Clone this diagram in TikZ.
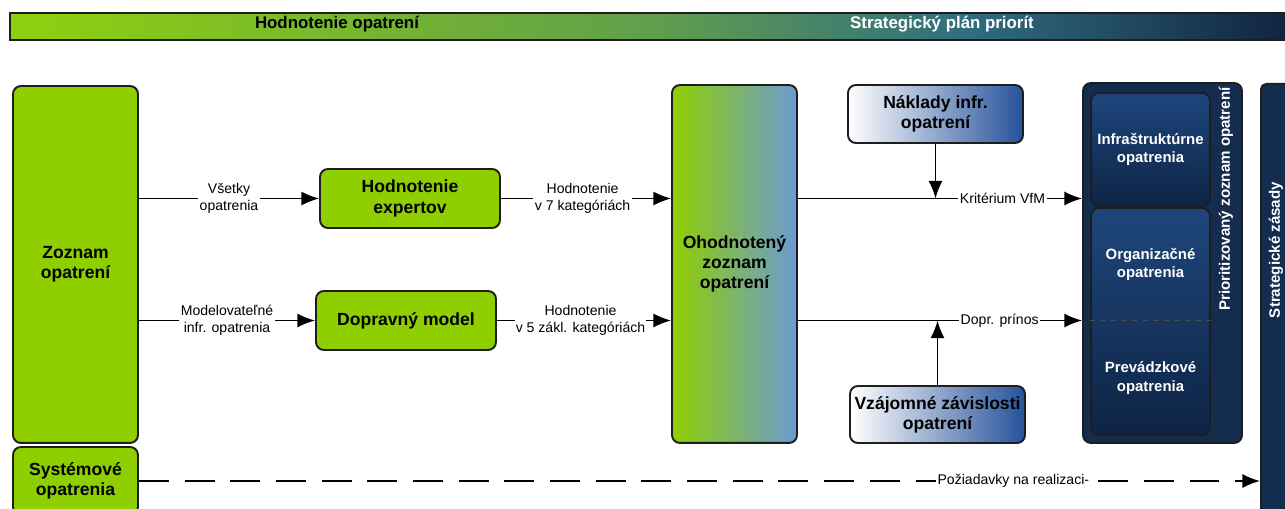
\documentclass[tikz,border=0pt]{standalone}
\usepackage{fontspec}
\setmainfont{Liberation Sans}
\usetikzlibrary{arrows.meta}
\definecolor{zelena}{RGB}{143,207,0}
\definecolor{modra}{RGB}{108,154,212}
\definecolor{tmava}{RGB}{38,82,155}
\definecolor{navy}{RGB}{20,44,78}
\definecolor{navyhore}{RGB}{30,70,124}
\definecolor{navydole}{RGB}{14,36,68}
\definecolor{okraj}{RGB}{30,30,30}
\pgfdeclarehorizontalshading{pasik}{100bp}{rgb(0bp)=(0.56,0.82,0.06); rgb(25bp)=(0.56,0.82,0.06); rgb(50bp)=(0.38,0.62,0.30); rgb(62bp)=(0.19,0.43,0.50); rgb(75bp)=(0.06,0.13,0.24); rgb(100bp)=(0.06,0.13,0.24)}

\begin{document}
\begin{tikzpicture}[x=0.02cm, y=-0.02cm,
	box/.style={draw=okraj, line width=1.1pt, rounded corners=4.5pt, align=center, inner sep=2pt, font=\bfseries\fontsize{10}{11.5}\selectfont},
	zbox/.style={box, fill=zelena},
	mbox/.style={box, left color=white, right color=tmava},
	nbox/.style={box, top color=navyhore, bottom color=navydole},
	ntext/.style={align=center, text=white, font=\bfseries\fontsize{8.5}{10.5}\selectfont},
	lbl/.style={fill=white, inner sep=1pt, align=center, font=\fontsize{8}{9.5}\selectfont},
	head/.style={font=\bfseries\fontsize{9.6}{11}\selectfont},
	tok/.style={line width=1pt, -{Latex[length=10pt, width=8pt]}}]
	\useasboundingbox (0,0) rectangle (1285,509);
	\clip (0,0) rectangle (1285,509);
	% horny pasik
	\shadedraw[shading=pasik, draw=okraj, line width=1pt] (10,13) rectangle (1300,40);
	\node[head] (hodn) at (337,24) {Hodnotenie opatrení};
	\node[head, text=white] (plan) at (942,24) {Strategický plán priorít};
	% lava cast
	\node[zbox, minimum width=2.5cm, minimum height=7.14cm] (zoznam) at (75.5,264.5) {Zoznam\\opatrení};
	\node[zbox, minimum width=2.5cm, minimum height=1.36cm] (system) at (75.5,481) {Systémové\\opatrenia};
	\node[zbox, minimum width=3.6cm, minimum height=1.18cm] (expert) at (410,198.5) {Hodnotenie\\expertov};
	\node[zbox, minimum width=3.6cm, minimum height=1.18cm] (doprava) at (406,320.5) {Dopravný model};
	\node[box, left color=zelena, right color=modra, minimum width=2.5cm, minimum height=7.16cm] (ohod) at (734.5,264) {Ohodnotený\\zoznam\\opatrení};
	\node[mbox, minimum width=3.5cm, minimum height=1.16cm] (naklady) at (935.5,114) {Náklady infr.\\opatrení};
	\node[mbox, minimum width=3.5cm, minimum height=1.14cm] (vzajom) at (937.5,414.5) {Vzájomné závislosti\\opatrení};
	% prava cast
	\node[box, fill=navy, minimum width=3.18cm, minimum height=7.2cm] (prior) at (1162.5,263) {};
	\node[nbox, minimum width=2.38cm, minimum height=2.26cm] (infra) at (1150.5,149.5) {};
	\node[ntext] (infratxt) at (infra) {Infraštruktúrne\\opatrenia};
	\node[nbox, minimum width=2.38cm, minimum height=4.54cm] (orgprev) at (1150.5,321.5) {};
	\node[ntext] (org) at (1150.5,264.5) {Organizačné\\opatrenia};
	\node[ntext] (prev) at (1150.5,378) {Prevádzkové\\opatrenia};
	\node[text=white, rotate=90, font=\bfseries\fontsize{8.6}{10}\selectfont] (priortxt) at (1226,199) {Prioritizovaný zoznam opatrení};
	\node[box, fill=navy, rounded corners=3pt, minimum width=0.9cm, minimum height=8.7cm, anchor=north west] (strat) at (1260,83) {};
	\node[text=white, rotate=90, font=\bfseries\fontsize{8.6}{10}\selectfont] (strattxt) at (1276,250) {Strategické zásady};
	\draw[black!70, dashed, line width=0.6pt] (orgprev.west |- doprava) -- (orgprev.east |- doprava);
	% spojnice
	\draw[tok] (zoznam.east |- expert) -- node[lbl] {Všetky\\opatrenia} (expert);
	\draw[tok] (zoznam.east |- doprava) -- node[lbl] {Modelovateľné\\infr. opatrenia} (doprava);
	\draw[tok] (expert) -- node[lbl, pos=0.48] {Hodnotenie\\v 7 kategóriách} (ohod.west |- expert);
	\draw[tok] (doprava) -- node[lbl, pos=0.48, inner sep=0.3pt] {Hodnotenie\\v 5 zákl. kategóriách} (ohod.west |- doprava);
	\draw[tok] (ohod.east |- expert) -- node[lbl, pos=0.72] {Kritérium VfM} (prior.west |- expert);
	\draw[tok] (ohod.east |- doprava) -- node[lbl, pos=0.71] {Dopr. prínos} (prior.west |- doprava);
	\draw[tok] (naklady) -- (naklady |- expert);
	\draw[tok] (vzajom) -- (vzajom |- doprava);
	\draw[tok, dash pattern=on 17pt off 9pt] (system) -- node[lbl, pos=0.78] {Požiadavky na realizaci-} (strat.west |- system);
\end{tikzpicture}
\end{document}
